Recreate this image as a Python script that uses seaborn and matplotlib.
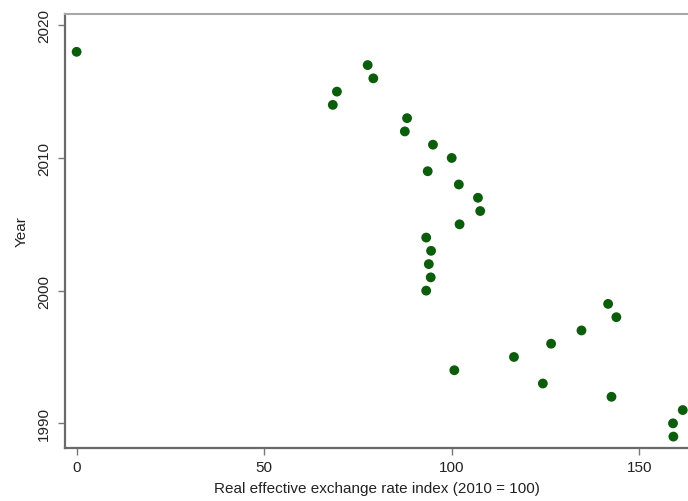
import matplotlib
matplotlib.use("Agg")
import matplotlib.pyplot as plt
import seaborn as sns
import pandas as pd

years = [2018, 2017, 2016, 2015, 2014, 2013, 2012, 2011, 2010, 2009,
         2008, 2007, 2006, 2005, 2004, 2003, 2002, 2001, 2000, 1999,
         1998, 1997, 1996, 1995, 1994, 1993, 1992, 1991, 1990, 1989]
reer = [0.0, 77.6, 79.1, 69.4, 68.3, 88.1, 87.5, 95.0, 100.0, 93.6,
        101.9, 107.0, 107.6, 102.1, 93.2, 94.5, 93.9, 94.4, 93.2, 141.7,
        143.9, 134.6, 126.5, 116.6, 100.7, 124.3, 142.6, 161.6, 159.0, 159.1]
x_ticks = [0, 50, 100, 150]
y_ticks = [1990, 2000, 2010, 2020]

df = pd.DataFrame({"reer": reer, "year": years})

sns.set_style("white")
plt.rcParams["font.family"] = ["Liberation Sans", "DejaVu Sans"]

fig = plt.figure(figsize=(6.88, 5.02), dpi=100)
ax = fig.add_axes([65 / 688, 53 / 502, 1 - 65 / 688, (449 - 15) / 502])

sns.scatterplot(data=df, x="reer", y="year", ax=ax, color="#0b5c0b",
                s=50, edgecolor="none", linewidth=0)

ax.set_xlim(-3.1, 163.0)
ax.set_ylim(1988.14, 2020.85)
ax.set_xticks(x_ticks)
ax.set_yticks(y_ticks)
ax.set_xticklabels([str(v) for v in x_ticks])
ax.set_yticklabels([str(v) for v in y_ticks], rotation=90, va="center")

ax.set_xlabel("Real effective exchange rate index (2010 = 100)", fontsize=11,
              color="#222222", labelpad=5)
ax.set_ylabel("Year", fontsize=11, color="#222222", labelpad=6)

ax.tick_params(axis="x", which="major", direction="out", length=5,
               width=1, color="#777777", labelsize=11, labelcolor="#222222",
               bottom=True, pad=4)
ax.tick_params(axis="y", which="major", direction="out", length=5,
               width=1, color="#777777", labelsize=11, labelcolor="#222222",
               left=True, pad=5)

for side in ["left", "bottom"]:
    ax.spines[side].set_color("#6a6a6a")
    ax.spines[side].set_linewidth(1.6)
ax.spines["top"].set_color("#a8a8a8")
ax.spines["top"].set_linewidth(1.5)
ax.spines["right"].set_visible(False)

fig.savefig("out.png", dpi=100)
